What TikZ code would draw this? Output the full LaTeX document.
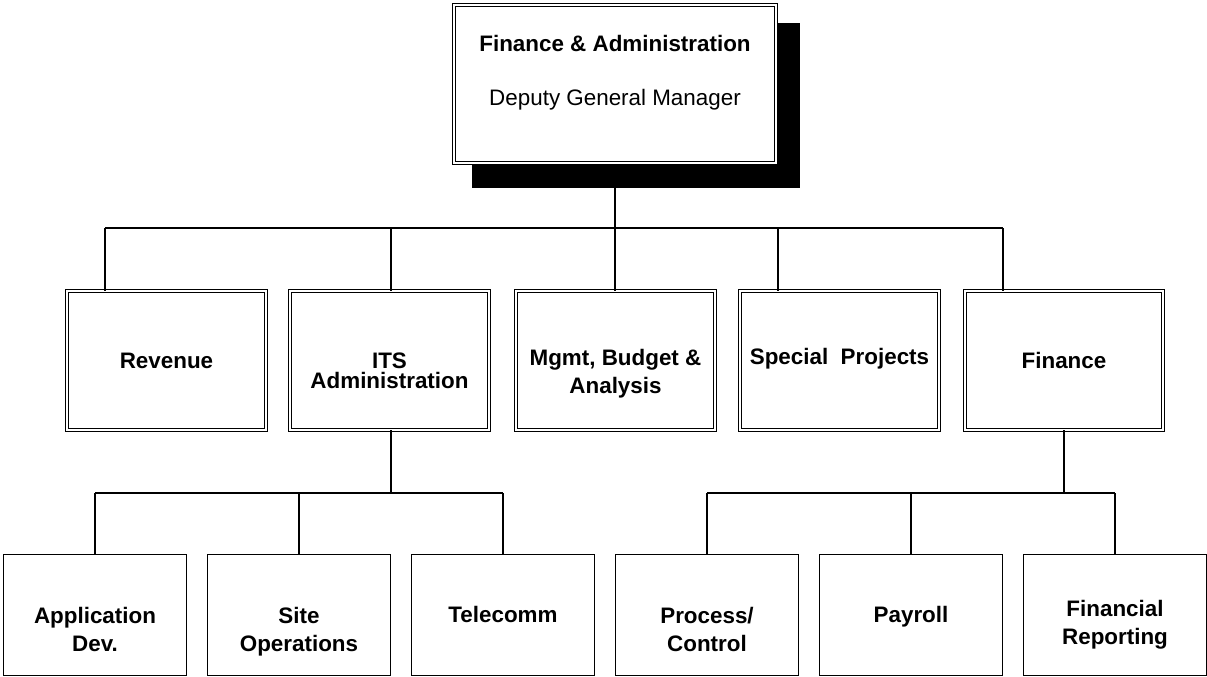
\documentclass[tikz,border=0pt]{standalone}
\usepackage{fontspec}
\setmainfont{Liberation Sans}
\begin{document}
\begin{tikzpicture}[x=1pt,y=-1pt,
  dblbox/.style={draw, fill=white, double, double distance=2.2pt, line width=1.1pt, inner sep=0pt},
  topbox/.style={dblbox, minimum width=322.5pt, minimum height=157.5pt},
  midbox/.style={dblbox, minimum width=198.5pt, minimum height=138.5pt},
  lowbox/.style={draw, fill=white, line width=1.3pt, inner sep=0pt, minimum width=183pt, minimum height=121pt},
  lbl/.style={font=\fontsize{22.4}{28}\selectfont\bfseries, align=center, inner sep=0pt},
  lbltight/.style={font=\fontsize{22.4}{20}\selectfont\bfseries, align=center, inner sep=0pt},
  plain/.style={font=\fontsize{22.4}{28}\selectfont, align=center, inner sep=0pt},
  conn/.style={line width=1.3pt}]
\useasboundingbox (0,0) rectangle (1207,677);

% top box with shadow
\fill[black] (472,23) rectangle (800,188);
\node[topbox] (top) at (615,84) {};
\node[lbl] (toptitle) at (615,43) {Finance \& Administration};
\node[plain] (topsub) at (615,100) {Deputy General Manager};

% level 2 boxes
\node[midbox] (rev)  at (166.5,360.5) {};
\node[midbox] (its)  at (389.5,360.5) {};
\node[midbox] (mgmt) at (615.5,360.5) {};
\node[midbox] (spec) at (839.5,360.5) {};
\node[midbox] (fin)  at (1064,360.5) {};
\node[lbl] (revt) at (166.5,361) {Revenue};
\node[lbltight] (itst) at (389.5,371) {ITS\\Administration};
\node[lbl] (mgmtt) at (615.5,374) {Mgmt, Budget \&\\Analysis};
\node[lbl] (spect) at (839.5,359) {Special\ \ Projects};
\node[lbl] (fint) at (1064,360) {Finance};

% level 1 bus
\coordinate (bt) at (615,228);
\coordinate (b1) at (105,228);
\coordinate (b2) at (391,228);
\coordinate (b3) at (615,228);
\coordinate (b4) at (778,228);
\coordinate (b5) at (1003,228);
\draw[conn] (0,188 -| top.south) -- (bt);
\draw[conn] (b1) -- (b5);
\draw[conn] (b1) -- (b1 |- rev.north);
\draw[conn] (b2) -- (b2 |- its.north);
\draw[conn] (b3) -- (b3 |- mgmt.north);
\draw[conn] (b4) -- (b4 |- spec.north);
\draw[conn] (b5) -- (b5 |- fin.north);

% level 3 boxes (ITS)
\node[lowbox] (app)  at (95,615) {};
\node[lowbox] (site) at (299,615) {};
\node[lowbox] (tel)  at (503,615) {};
\node[lbl] (appt)  at (95,629) {Application\\Dev.};
\node[lbl] (sitet) at (299,632) {Site\\Operations};
\node[lbl] (telt)  at (503,614) {Telecomm};

% level 3 boxes (Finance)
\node[lowbox] (proc) at (707,615) {};
\node[lowbox] (pay)  at (911,615) {};
\node[lowbox] (frep) at (1115,615) {};
\node[lbl] (proct) at (707,629) {Process/\\Control};
\node[lbl] (payt)  at (911,617) {Payroll};
\node[lbl] (frept) at (1115,625) {Financial\\Reporting};

% level 2 -> 3 buses
\coordinate (ia) at (391,493);
\draw[conn] (ia |- its.south) -- (ia);
\draw[conn] (app.north |- ia) -- (tel.north |- ia);
\draw[conn] (app.north |- ia) -- (app.north);
\draw[conn] (site.north |- ia) -- (site.north);
\draw[conn] (tel.north |- ia) -- (tel.north);

\coordinate (fa) at (1064,493);
\draw[conn] (fin.south) -- (fa);
\draw[conn] (proc.north |- fa) -- (frep.north |- fa);
\draw[conn] (proc.north |- fa) -- (proc.north);
\draw[conn] (pay.north |- fa) -- (pay.north);
\draw[conn] (frep.north |- fa) -- (frep.north);
\end{tikzpicture}
\end{document}
